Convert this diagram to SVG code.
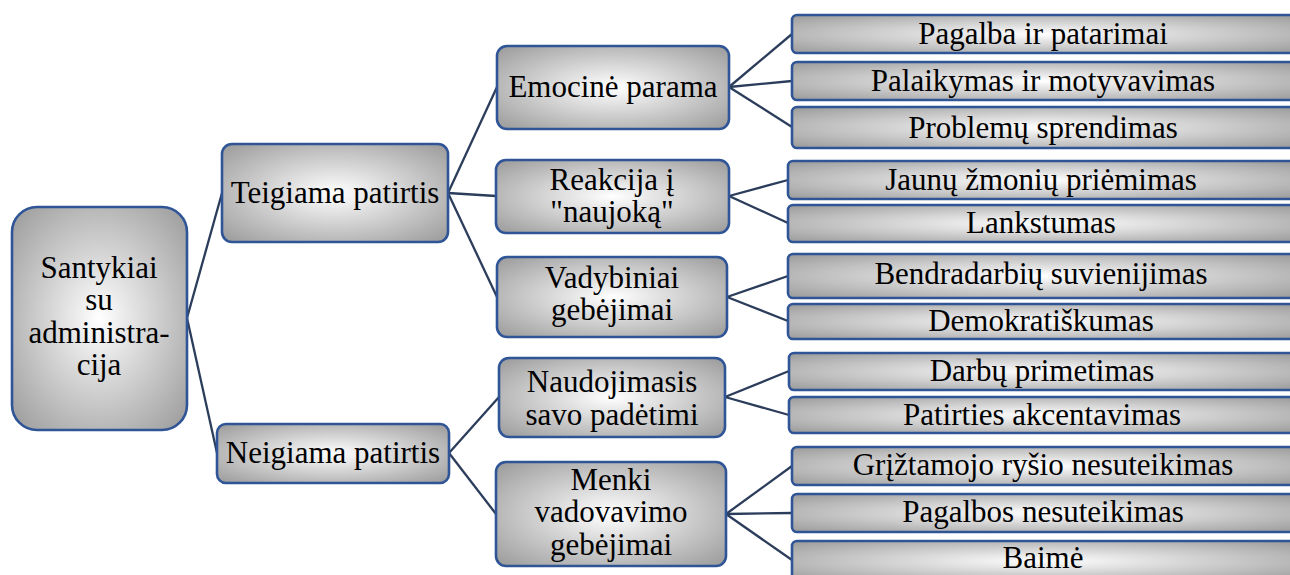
<svg xmlns="http://www.w3.org/2000/svg" width="1290" height="575" viewBox="0 0 1290 575">
<defs>
<radialGradient id="g" cx="0.5" cy="0.5" r="0.7">
<stop offset="0" stop-color="#ffffff"/>
<stop offset="1" stop-color="#9a9a9a"/>
</radialGradient>
<style>
.b{fill:url(#g);stroke:#2f5597;stroke-width:2.6}
.t{font-size:31px;fill:#000;text-anchor:middle}
.c line{stroke:#2c3d5b;stroke-width:2.3}
</style>
</defs>
<rect width="1290" height="575" fill="#fff"/>
<g class="c" id="connectors">
<line x1="187" y1="318" x2="222" y2="193"/>
<line x1="187" y1="318" x2="217" y2="453"/>
<line x1="448" y1="193" x2="497" y2="87"/>
<line x1="448" y1="193" x2="496" y2="196"/>
<line x1="448" y1="193" x2="497" y2="297"/>
<line x1="449" y1="453" x2="499" y2="397"/>
<line x1="449" y1="453" x2="496" y2="514"/>
<line x1="729" y1="87" x2="792" y2="34"/>
<line x1="729" y1="87" x2="792" y2="81"/>
<line x1="729" y1="87" x2="792" y2="127"/>
<line x1="729" y1="196" x2="788" y2="180"/>
<line x1="729" y1="196" x2="788" y2="223"/>
<line x1="727" y1="297" x2="788" y2="276"/>
<line x1="727" y1="297" x2="788" y2="321"/>
<line x1="725" y1="397" x2="789" y2="371"/>
<line x1="725" y1="397" x2="789" y2="415"/>
<line x1="726" y1="514" x2="792" y2="466"/>
<line x1="726" y1="514" x2="792" y2="513"/>
<line x1="726" y1="514" x2="792" y2="560"/>
</g>
<g class="t" font-family="Liberation Serif, Times New Roman, serif">
<g id="root"><rect class="b" x="12" y="207" width="175" height="223" rx="25"/>
<text x="99" y="278">Santykiai</text><text x="99" y="310">su</text><text x="99" y="343">administra-</text><text x="99" y="375">cija</text></g>
<g id="teigiama"><rect class="b" x="222" y="144" width="226" height="98" rx="10"/><text x="335" y="203">Teigiama patirtis</text></g>
<g id="neigiama"><rect class="b" x="217" y="424" width="232" height="59" rx="9"/><text x="333" y="463">Neigiama patirtis</text></g>
<g id="emocine"><rect class="b" x="497" y="46" width="232" height="83" rx="10"/><text x="613" y="97">Emocinė parama</text></g>
<g id="reakcija"><rect class="b" x="496" y="160" width="233" height="73" rx="10"/><text x="612" y="190">Reakcija į</text><text x="612" y="222">"naujoką"</text></g>
<g id="vadybiniai"><rect class="b" x="497" y="257" width="230" height="80" rx="10"/><text x="612" y="288">Vadybiniai</text><text x="612" y="320">gebėjimai</text></g>
<g id="naudojimasis"><rect class="b" x="499" y="358" width="226" height="79" rx="10"/><text x="612" y="392">Naudojimasis</text><text x="612" y="425">savo padėtimi</text></g>
<g id="menki"><rect class="b" x="496" y="462" width="230" height="104" rx="10"/><text x="611" y="490">Menki</text><text x="611" y="522">vadovavimo</text><text x="611" y="555">gebėjimai</text></g>
<g id="l1"><rect class="b" x="792" y="15" width="503" height="38" rx="5"/><text x="1043" y="44">Pagalba ir patarimai</text></g>
<g id="l2"><rect class="b" x="792" y="62" width="503" height="38" rx="5"/><text x="1043" y="91">Palaikymas ir motyvavimas</text></g>
<g id="l3"><rect class="b" x="792" y="107" width="503" height="41" rx="5"/><text x="1043" y="138">Problemų sprendimas</text></g>
<g id="l4"><rect class="b" x="788" y="161" width="507" height="38" rx="5"/><text x="1041" y="190">Jaunų žmonių priėmimas</text></g>
<g id="l5"><rect class="b" x="788" y="205" width="507" height="37" rx="5"/><text x="1041" y="233">Lankstumas</text></g>
<g id="l6"><rect class="b" x="788" y="254" width="507" height="44" rx="5"/><text x="1041" y="284">Bendradarbių suvienijimas</text></g>
<g id="l7"><rect class="b" x="788" y="304" width="507" height="35" rx="5"/><text x="1041" y="331">Demokratiškumas</text></g>
<g id="l8"><rect class="b" x="789" y="353" width="506" height="37" rx="5"/><text x="1042" y="381">Darbų primetimas</text></g>
<g id="l9"><rect class="b" x="789" y="397" width="506" height="36" rx="5"/><text x="1042" y="425">Patirties akcentavimas</text></g>
<g id="l10"><rect class="b" x="792" y="447" width="503" height="38" rx="5"/><text x="1043" y="475">Grįžtamojo ryšio nesuteikimas</text></g>
<g id="l11"><rect class="b" x="792" y="494" width="503" height="38" rx="5"/><text x="1043" y="522">Pagalbos nesuteikimas</text></g>
<g id="l12"><rect class="b" x="792" y="541" width="503" height="40" rx="5"/><text x="1043" y="568">Baimė</text></g>
</g>
</svg>
